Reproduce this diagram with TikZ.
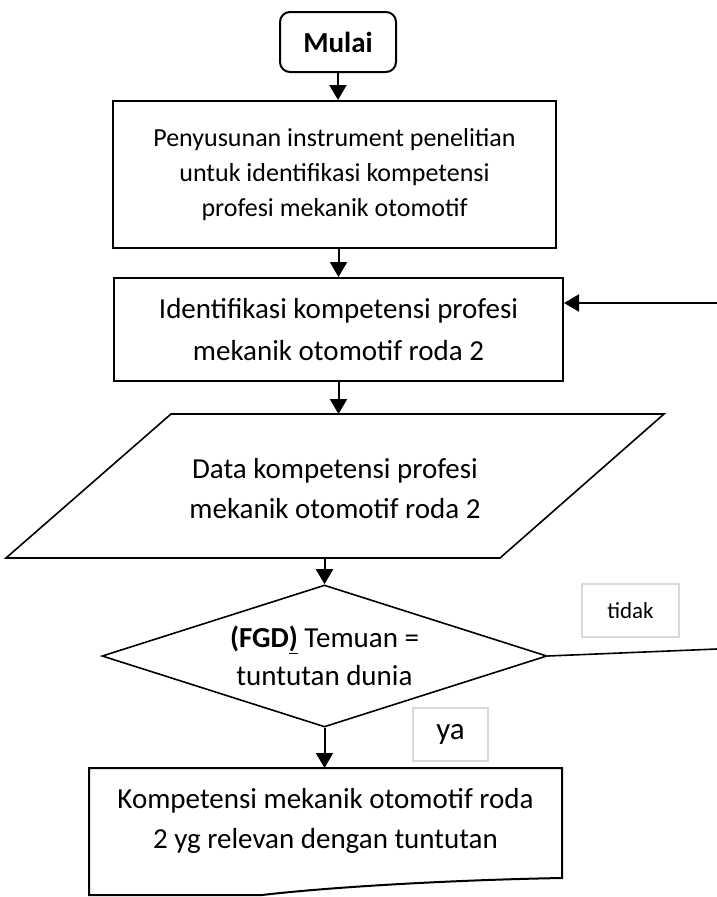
\documentclass[tikz,border=0pt]{standalone}
\usepackage{fontspec}
\setmainfont{Carlito}
\usetikzlibrary{shapes.geometric, arrows.meta, positioning, calc}

\begin{document}
\begin{tikzpicture}[
  x=1pt, y=1pt,
  box/.style={draw, line width=2pt, align=center, inner sep=0pt},
  txt/.style={align=center, inner sep=0pt},
  arrow/.style={-{Triangle[length=15pt,width=17pt]}, line width=2pt},
  shp/.style={line width=1.6pt},
  tag/.style={draw=black!15, line width=1.2pt, inner sep=0pt}
]
\useasboundingbox (0,0) rectangle (717,-897);
\node (mulai) [box, rounded corners=10pt, minimum width=116pt, minimum height=60pt, font=\fontsize{29}{35}\selectfont\bfseries] at (338,-42) {Mulai};
\node (prep) [box, below of=mulai, node distance=132.5pt, xshift=-3.5pt, minimum width=443pt, minimum height=147pt, font=\fontsize{26}{35}\selectfont] {Penyusunan instrument penelitian\\untuk identifikasi kompetensi\\profesi mekanik otomotif};
\node (ident) [box, below of=prep, node distance=155pt, xshift=4pt, minimum width=449pt, minimum height=103pt, font=\fontsize{29}{42}\selectfont] {Identifikasi kompetensi profesi\\mekanik otomotif roda 2};
\node (data) [txt, below of=ident, node distance=159.5pt, xshift=-3.5pt, font=\fontsize{29}{40}\selectfont] {Data kompetensi profesi\\mekanik otomotif roda 2};
\draw[shp] ($(data)+(-164,75)$) -- ($(data)+(329,75)$) -- ($(data)+(165,-69)$) -- ($(data)+(-329,-69)$) -- cycle;
\coordinate (dataT) at ($(data)+(0,75)$);
\coordinate (dataB) at ($(data)+(0,-69)$);
\node (dec) [diamond, draw, shp, align=center, inner sep=0pt, aspect=3.13, minimum width=445pt, minimum height=142pt, below of=data, node distance=167pt, xshift=-10.5pt, font=\fontsize{29}{38}\selectfont] {\textbf{(FGD\underline{)}} Temuan =\\tuntutan dunia};
\node (komp) [txt, below of=dec, node distance=165pt, xshift=1pt, font=\fontsize{29}{40}\selectfont] {Kompetensi mekanik otomotif roda\\2 yg relevan dengan tuntutan};
\draw[line width=2pt] ($(komp)+(-236.5,53)$) -- ($(komp)+(236.5,53)$) -- ($(komp)+(236.5,-57)$) .. controls ($(komp)+(125,-59)$) and ($(komp)+(5,-66)$) .. ($(komp)+(-63.5,-74)$) -- ($(komp)+(-236.5,-74)$) -- cycle;
\coordinate (kompT) at ($(komp)+(0,53)$);
\node (tidak) [tag, minimum width=97pt, minimum height=53pt, font=\fontsize{23}{28}\selectfont] at (630.5,-610.5) {tidak};
\node (ya) [tag, minimum width=75pt, minimum height=53pt, font=\fontsize{31}{36}\selectfont] at (450.5,-734.5) {ya};
\coordinate (backIn) at (717,-303);
\coordinate (backOut) at (717,-649);
\draw[arrow] (mulai.south) -- (mulai.south |- prep.north);
\draw[arrow] (prep.south -| ident.north) -- (ident.north);
\draw[arrow] (ident.south) -- (ident.south |- dataT);
\draw[arrow] (dec.north |- dataB) -- (dec.north);
\draw[arrow] (dec.south) -- (dec.south |- kompT);
\draw[arrow] (backIn) -- (backIn -| ident.east);
\draw[shp] (dec.east) -- (backOut);
\end{tikzpicture}
\end{document}
